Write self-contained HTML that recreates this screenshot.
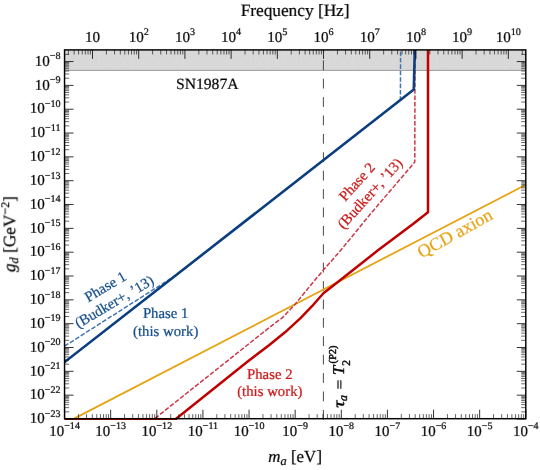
<!DOCTYPE html>
<html><head><meta charset="utf-8"><title>plot</title>
<style>
html,body{margin:0;padding:0;background:#fff;}
svg{display:block;}
text{font-family:"Liberation Serif",serif;text-rendering:geometricPrecision;stroke-width:0.22px;}
.h text{stroke-width:0.42px}
.k{fill:#000;stroke:#000}.b{fill:#114A86;stroke:#114A86}.r{fill:#C81414;stroke:#C81414}.o{fill:#E5A414;stroke:#E5A414}
</style></head><body>
<svg width="540" height="470" viewBox="0 0 540 470">
<rect x="0" y="0" width="540" height="470" fill="#ffffff"/>
<defs><clipPath id="cp"><rect x="64.55" y="49.9" width="461.24999999999994" height="370.0"/></clipPath></defs>
<rect x="64.55" y="49.9" width="461.24999999999994" height="20.500000000000007" fill="#d8d8d8"/>
<path d="M64.9 53.5L81.8 70.4M64.9 70.4L81.8 53.5M64.9 49.9L64.9 70.4M81.8 53.5L98.7 70.4M81.8 70.4L98.7 53.5M81.8 49.9L81.8 70.4M98.7 53.5L115.6 70.4M98.7 70.4L115.6 53.5M98.7 49.9L98.7 70.4M115.6 53.5L132.5 70.4M115.6 70.4L132.5 53.5M115.6 49.9L115.6 70.4M132.5 53.5L149.4 70.4M132.5 70.4L149.4 53.5M132.5 49.9L132.5 70.4M149.4 53.5L166.3 70.4M149.4 70.4L166.3 53.5M149.4 49.9L149.4 70.4M166.3 53.5L183.2 70.4M166.3 70.4L183.2 53.5M166.3 49.9L166.3 70.4M183.2 53.5L200.1 70.4M183.2 70.4L200.1 53.5M183.2 49.9L183.2 70.4M200.1 53.5L217.0 70.4M200.1 70.4L217.0 53.5M200.1 49.9L200.1 70.4M217.0 53.5L233.9 70.4M217.0 70.4L233.9 53.5M217.0 49.9L217.0 70.4M233.9 53.5L250.8 70.4M233.9 70.4L250.8 53.5M233.9 49.9L233.9 70.4M250.8 53.5L267.7 70.4M250.8 70.4L267.7 53.5M250.8 49.9L250.8 70.4M267.7 53.5L284.6 70.4M267.7 70.4L284.6 53.5M267.7 49.9L267.7 70.4M284.6 53.5L301.5 70.4M284.6 70.4L301.5 53.5M284.6 49.9L284.6 70.4M301.5 53.5L318.4 70.4M301.5 70.4L318.4 53.5M301.5 49.9L301.5 70.4M318.4 53.5L335.3 70.4M318.4 70.4L335.3 53.5M318.4 49.9L318.4 70.4M335.3 53.5L352.2 70.4M335.3 70.4L352.2 53.5M335.3 49.9L335.3 70.4M352.2 53.5L369.1 70.4M352.2 70.4L369.1 53.5M352.2 49.9L352.2 70.4M369.1 53.5L386.0 70.4M369.1 70.4L386.0 53.5M369.1 49.9L369.1 70.4M386.0 53.5L402.9 70.4M386.0 70.4L402.9 53.5M386.0 49.9L386.0 70.4M402.9 53.5L419.8 70.4M402.9 70.4L419.8 53.5M402.9 49.9L402.9 70.4M419.8 53.5L436.7 70.4M419.8 70.4L436.7 53.5M419.8 49.9L419.8 70.4M436.7 53.5L453.6 70.4M436.7 70.4L453.6 53.5M436.7 49.9L436.7 70.4M453.6 53.5L470.5 70.4M453.6 70.4L470.5 53.5M453.6 49.9L453.6 70.4M470.5 53.5L487.4 70.4M470.5 70.4L487.4 53.5M470.5 49.9L470.5 70.4M487.4 53.5L504.3 70.4M487.4 70.4L504.3 53.5M487.4 49.9L487.4 70.4M504.3 53.5L521.2 70.4M504.3 70.4L521.2 53.5M504.3 49.9L504.3 70.4M521.2 53.5L538.1 70.4M521.2 70.4L538.1 53.5M521.2 49.9L521.2 70.4" stroke="#e0e0e0" stroke-width="0.45" fill="none" clip-path="url(#cp)"/>
<line x1="64.55" y1="70.4" x2="525.8" y2="70.4" stroke="#9a9a9a" stroke-width="1"/>
<g clip-path="url(#cp)" fill="none" stroke-linejoin="miter">
<line x1="323.4" y1="419.7" x2="323.4" y2="49.9" stroke="#333" stroke-width="0.9" stroke-dasharray="9.8 8.6"/>
<path d="M74.6 418.4L525.3 185.0" stroke="#E5A414" stroke-width="1.8"/>
<path d="M155 418.4L248 344.5L270 327L282.5 317.6L294.5 305L310 286L323.4 270L341 250L370 214.5L414.8 162L415.0 49" stroke="#CE3646" stroke-width="1.5" stroke-dasharray="4.6 1.8"/>
<path d="M64.5 346.2L176 275.2L400.4 100.2L400.6 49" stroke="#3F76B0" stroke-width="1.5" stroke-dasharray="4.6 1.8"/>
<path d="M60 419.5L175.2 419.5L248 361.2L269 345.2L285 332.3L300.5 318.2L312 306.2L323.4 293.2L334 285L378 250.3L413 224L428 212.2L428 49" stroke="#C00000" stroke-width="2.5" stroke-linejoin="round"/>
<path d="M64 362.6L413.8 89.6L414.8 49" stroke="#0B3F7F" stroke-width="2.6" stroke-linejoin="round"/>
</g>
<path d="M78.44 418.7V414.09999999999997M86.56 418.7V414.09999999999997M92.32 418.7V414.09999999999997M96.79 418.7V414.09999999999997M100.44 418.7V414.09999999999997M103.53 418.7V414.09999999999997M106.21 418.7V414.09999999999997M108.56 418.7V414.09999999999997M124.56 418.7V414.09999999999997M132.68 418.7V414.09999999999997M138.45 418.7V414.09999999999997M142.91 418.7V414.09999999999997M146.57 418.7V414.09999999999997M149.66 418.7V414.09999999999997M152.33 418.7V414.09999999999997M154.69 418.7V414.09999999999997M170.69 418.7V414.09999999999997M178.81 418.7V414.09999999999997M184.57 418.7V414.09999999999997M189.04 418.7V414.09999999999997M192.69 418.7V414.09999999999997M195.78 418.7V414.09999999999997M198.46 418.7V414.09999999999997M200.81 418.7V414.09999999999997M216.81 418.7V414.09999999999997M224.93 418.7V414.09999999999997M230.70 418.7V414.09999999999997M235.16 418.7V414.09999999999997M238.82 418.7V414.09999999999997M241.91 418.7V414.09999999999997M244.58 418.7V414.09999999999997M246.94 418.7V414.09999999999997M262.94 418.7V414.09999999999997M271.06 418.7V414.09999999999997M276.82 418.7V414.09999999999997M281.29 418.7V414.09999999999997M284.94 418.7V414.09999999999997M288.03 418.7V414.09999999999997M290.71 418.7V414.09999999999997M293.06 418.7V414.09999999999997M309.06 418.7V414.09999999999997M317.18 418.7V414.09999999999997M322.95 418.7V414.09999999999997M327.41 418.7V414.09999999999997M331.07 418.7V414.09999999999997M334.16 418.7V414.09999999999997M336.83 418.7V414.09999999999997M339.19 418.7V414.09999999999997M355.19 418.7V414.09999999999997M363.31 418.7V414.09999999999997M369.07 418.7V414.09999999999997M373.54 418.7V414.09999999999997M377.19 418.7V414.09999999999997M380.28 418.7V414.09999999999997M382.96 418.7V414.09999999999997M385.31 418.7V414.09999999999997M401.31 418.7V414.09999999999997M409.43 418.7V414.09999999999997M415.20 418.7V414.09999999999997M419.66 418.7V414.09999999999997M423.32 418.7V414.09999999999997M426.41 418.7V414.09999999999997M429.08 418.7V414.09999999999997M431.44 418.7V414.09999999999997M447.44 418.7V414.09999999999997M455.56 418.7V414.09999999999997M461.32 418.7V414.09999999999997M465.79 418.7V414.09999999999997M469.44 418.7V414.09999999999997M472.53 418.7V414.09999999999997M475.21 418.7V414.09999999999997M477.56 418.7V414.09999999999997M493.56 418.7V414.09999999999997M501.68 418.7V414.09999999999997M507.45 418.7V414.09999999999997M511.91 418.7V414.09999999999997M515.57 418.7V414.09999999999997M518.66 418.7V414.09999999999997M521.33 418.7V414.09999999999997M523.69 418.7V414.09999999999997M68.34 49.9V54.5M74.11 49.9V54.5M78.59 49.9V54.5M82.25 49.9V54.5M85.34 49.9V54.5M88.02 49.9V54.5M90.39 49.9V54.5M106.41 49.9V54.5M114.55 49.9V54.5M120.32 49.9V54.5M124.80 49.9V54.5M128.45 49.9V54.5M131.55 49.9V54.5M134.23 49.9V54.5M136.59 49.9V54.5M152.61 49.9V54.5M160.75 49.9V54.5M166.52 49.9V54.5M171.00 49.9V54.5M174.66 49.9V54.5M177.75 49.9V54.5M180.43 49.9V54.5M182.80 49.9V54.5M198.82 49.9V54.5M206.96 49.9V54.5M212.73 49.9V54.5M217.21 49.9V54.5M220.86 49.9V54.5M223.96 49.9V54.5M226.64 49.9V54.5M229.00 49.9V54.5M245.02 49.9V54.5M253.16 49.9V54.5M258.93 49.9V54.5M263.41 49.9V54.5M267.07 49.9V54.5M270.16 49.9V54.5M272.84 49.9V54.5M275.21 49.9V54.5M291.23 49.9V54.5M299.37 49.9V54.5M305.14 49.9V54.5M309.62 49.9V54.5M313.27 49.9V54.5M316.37 49.9V54.5M319.05 49.9V54.5M321.41 49.9V54.5M337.43 49.9V54.5M345.57 49.9V54.5M351.34 49.9V54.5M355.82 49.9V54.5M359.48 49.9V54.5M362.57 49.9V54.5M365.25 49.9V54.5M367.62 49.9V54.5M383.64 49.9V54.5M391.78 49.9V54.5M397.55 49.9V54.5M402.03 49.9V54.5M405.68 49.9V54.5M408.78 49.9V54.5M411.46 49.9V54.5M413.82 49.9V54.5M429.84 49.9V54.5M437.98 49.9V54.5M443.75 49.9V54.5M448.23 49.9V54.5M451.89 49.9V54.5M454.98 49.9V54.5M457.66 49.9V54.5M460.03 49.9V54.5M476.05 49.9V54.5M484.19 49.9V54.5M489.96 49.9V54.5M494.44 49.9V54.5M498.09 49.9V54.5M501.19 49.9V54.5M503.87 49.9V54.5M506.23 49.9V54.5M522.25 49.9V54.5M64.55 411.83H69.14999999999999M525.8 411.83H521.1999999999999M64.55 407.63H69.14999999999999M525.8 407.63H521.1999999999999M64.55 404.65H69.14999999999999M525.8 404.65H521.1999999999999M64.55 402.34H69.14999999999999M525.8 402.34H521.1999999999999M64.55 400.46H69.14999999999999M525.8 400.46H521.1999999999999M64.55 398.86H69.14999999999999M525.8 398.86H521.1999999999999M64.55 397.48H69.14999999999999M525.8 397.48H521.1999999999999M64.55 396.26H69.14999999999999M525.8 396.26H521.1999999999999M64.55 388.00H69.14999999999999M525.8 388.00H521.1999999999999M64.55 383.80H69.14999999999999M525.8 383.80H521.1999999999999M64.55 380.82H69.14999999999999M525.8 380.82H521.1999999999999M64.55 378.51H69.14999999999999M525.8 378.51H521.1999999999999M64.55 376.63H69.14999999999999M525.8 376.63H521.1999999999999M64.55 375.03H69.14999999999999M525.8 375.03H521.1999999999999M64.55 373.65H69.14999999999999M525.8 373.65H521.1999999999999M64.55 372.43H69.14999999999999M525.8 372.43H521.1999999999999M64.55 364.17H69.14999999999999M525.8 364.17H521.1999999999999M64.55 359.97H69.14999999999999M525.8 359.97H521.1999999999999M64.55 356.99H69.14999999999999M525.8 356.99H521.1999999999999M64.55 354.68H69.14999999999999M525.8 354.68H521.1999999999999M64.55 352.80H69.14999999999999M525.8 352.80H521.1999999999999M64.55 351.20H69.14999999999999M525.8 351.20H521.1999999999999M64.55 349.82H69.14999999999999M525.8 349.82H521.1999999999999M64.55 348.60H69.14999999999999M525.8 348.60H521.1999999999999M64.55 340.34H69.14999999999999M525.8 340.34H521.1999999999999M64.55 336.14H69.14999999999999M525.8 336.14H521.1999999999999M64.55 333.16H69.14999999999999M525.8 333.16H521.1999999999999M64.55 330.85H69.14999999999999M525.8 330.85H521.1999999999999M64.55 328.97H69.14999999999999M525.8 328.97H521.1999999999999M64.55 327.37H69.14999999999999M525.8 327.37H521.1999999999999M64.55 325.99H69.14999999999999M525.8 325.99H521.1999999999999M64.55 324.77H69.14999999999999M525.8 324.77H521.1999999999999M64.55 316.51H69.14999999999999M525.8 316.51H521.1999999999999M64.55 312.31H69.14999999999999M525.8 312.31H521.1999999999999M64.55 309.33H69.14999999999999M525.8 309.33H521.1999999999999M64.55 307.02H69.14999999999999M525.8 307.02H521.1999999999999M64.55 305.14H69.14999999999999M525.8 305.14H521.1999999999999M64.55 303.54H69.14999999999999M525.8 303.54H521.1999999999999M64.55 302.16H69.14999999999999M525.8 302.16H521.1999999999999M64.55 300.94H69.14999999999999M525.8 300.94H521.1999999999999M64.55 292.68H69.14999999999999M525.8 292.68H521.1999999999999M64.55 288.48H69.14999999999999M525.8 288.48H521.1999999999999M64.55 285.50H69.14999999999999M525.8 285.50H521.1999999999999M64.55 283.19H69.14999999999999M525.8 283.19H521.1999999999999M64.55 281.31H69.14999999999999M525.8 281.31H521.1999999999999M64.55 279.71H69.14999999999999M525.8 279.71H521.1999999999999M64.55 278.33H69.14999999999999M525.8 278.33H521.1999999999999M64.55 277.11H69.14999999999999M525.8 277.11H521.1999999999999M64.55 268.85H69.14999999999999M525.8 268.85H521.1999999999999M64.55 264.65H69.14999999999999M525.8 264.65H521.1999999999999M64.55 261.67H69.14999999999999M525.8 261.67H521.1999999999999M64.55 259.36H69.14999999999999M525.8 259.36H521.1999999999999M64.55 257.48H69.14999999999999M525.8 257.48H521.1999999999999M64.55 255.88H69.14999999999999M525.8 255.88H521.1999999999999M64.55 254.50H69.14999999999999M525.8 254.50H521.1999999999999M64.55 253.28H69.14999999999999M525.8 253.28H521.1999999999999M64.55 245.02H69.14999999999999M525.8 245.02H521.1999999999999M64.55 240.82H69.14999999999999M525.8 240.82H521.1999999999999M64.55 237.84H69.14999999999999M525.8 237.84H521.1999999999999M64.55 235.53H69.14999999999999M525.8 235.53H521.1999999999999M64.55 233.65H69.14999999999999M525.8 233.65H521.1999999999999M64.55 232.05H69.14999999999999M525.8 232.05H521.1999999999999M64.55 230.67H69.14999999999999M525.8 230.67H521.1999999999999M64.55 229.45H69.14999999999999M525.8 229.45H521.1999999999999M64.55 221.19H69.14999999999999M525.8 221.19H521.1999999999999M64.55 216.99H69.14999999999999M525.8 216.99H521.1999999999999M64.55 214.01H69.14999999999999M525.8 214.01H521.1999999999999M64.55 211.70H69.14999999999999M525.8 211.70H521.1999999999999M64.55 209.82H69.14999999999999M525.8 209.82H521.1999999999999M64.55 208.22H69.14999999999999M525.8 208.22H521.1999999999999M64.55 206.84H69.14999999999999M525.8 206.84H521.1999999999999M64.55 205.62H69.14999999999999M525.8 205.62H521.1999999999999M64.55 197.36H69.14999999999999M525.8 197.36H521.1999999999999M64.55 193.16H69.14999999999999M525.8 193.16H521.1999999999999M64.55 190.18H69.14999999999999M525.8 190.18H521.1999999999999M64.55 187.87H69.14999999999999M525.8 187.87H521.1999999999999M64.55 185.99H69.14999999999999M525.8 185.99H521.1999999999999M64.55 184.39H69.14999999999999M525.8 184.39H521.1999999999999M64.55 183.01H69.14999999999999M525.8 183.01H521.1999999999999M64.55 181.79H69.14999999999999M525.8 181.79H521.1999999999999M64.55 173.53H69.14999999999999M525.8 173.53H521.1999999999999M64.55 169.33H69.14999999999999M525.8 169.33H521.1999999999999M64.55 166.35H69.14999999999999M525.8 166.35H521.1999999999999M64.55 164.04H69.14999999999999M525.8 164.04H521.1999999999999M64.55 162.16H69.14999999999999M525.8 162.16H521.1999999999999M64.55 160.56H69.14999999999999M525.8 160.56H521.1999999999999M64.55 159.18H69.14999999999999M525.8 159.18H521.1999999999999M64.55 157.96H69.14999999999999M525.8 157.96H521.1999999999999M64.55 149.70H69.14999999999999M525.8 149.70H521.1999999999999M64.55 145.50H69.14999999999999M525.8 145.50H521.1999999999999M64.55 142.52H69.14999999999999M525.8 142.52H521.1999999999999M64.55 140.21H69.14999999999999M525.8 140.21H521.1999999999999M64.55 138.33H69.14999999999999M525.8 138.33H521.1999999999999M64.55 136.73H69.14999999999999M525.8 136.73H521.1999999999999M64.55 135.35H69.14999999999999M525.8 135.35H521.1999999999999M64.55 134.13H69.14999999999999M525.8 134.13H521.1999999999999M64.55 125.87H69.14999999999999M525.8 125.87H521.1999999999999M64.55 121.67H69.14999999999999M525.8 121.67H521.1999999999999M64.55 118.69H69.14999999999999M525.8 118.69H521.1999999999999M64.55 116.38H69.14999999999999M525.8 116.38H521.1999999999999M64.55 114.50H69.14999999999999M525.8 114.50H521.1999999999999M64.55 112.90H69.14999999999999M525.8 112.90H521.1999999999999M64.55 111.52H69.14999999999999M525.8 111.52H521.1999999999999M64.55 110.30H69.14999999999999M525.8 110.30H521.1999999999999M64.55 102.04H69.14999999999999M525.8 102.04H521.1999999999999M64.55 97.84H69.14999999999999M525.8 97.84H521.1999999999999M64.55 94.86H69.14999999999999M525.8 94.86H521.1999999999999M64.55 92.55H69.14999999999999M525.8 92.55H521.1999999999999M64.55 90.67H69.14999999999999M525.8 90.67H521.1999999999999M64.55 89.07H69.14999999999999M525.8 89.07H521.1999999999999M64.55 87.69H69.14999999999999M525.8 87.69H521.1999999999999M64.55 86.47H69.14999999999999M525.8 86.47H521.1999999999999M64.55 78.21H69.14999999999999M525.8 78.21H521.1999999999999M64.55 74.01H69.14999999999999M525.8 74.01H521.1999999999999M64.55 71.03H69.14999999999999M525.8 71.03H521.1999999999999M64.55 68.72H69.14999999999999M525.8 68.72H521.1999999999999M64.55 66.84H69.14999999999999M525.8 66.84H521.1999999999999M64.55 65.24H69.14999999999999M525.8 65.24H521.1999999999999M64.55 63.86H69.14999999999999M525.8 63.86H521.1999999999999M64.55 62.64H69.14999999999999M525.8 62.64H521.1999999999999M64.55 54.38H69.14999999999999M525.8 54.38H521.1999999999999" stroke="#000" stroke-width="0.6" fill="none"/>
<path d="M64.55 418.7V409.7M110.67 418.7V409.7M156.80 418.7V409.7M202.92 418.7V409.7M249.05 418.7V409.7M295.17 418.7V409.7M341.30 418.7V409.7M387.42 418.7V409.7M433.55 418.7V409.7M479.67 418.7V409.7M525.80 418.7V409.7M92.50 49.9V58.9M138.70 49.9V58.9M184.91 49.9V58.9M231.12 49.9V58.9M277.32 49.9V58.9M323.52 49.9V58.9M369.73 49.9V58.9M415.94 49.9V58.9M462.14 49.9V58.9M508.34 49.9V58.9M64.55 419.00H73.55M525.8 419.00H516.8M64.55 395.17H73.55M525.8 395.17H516.8M64.55 371.34H73.55M525.8 371.34H516.8M64.55 347.51H73.55M525.8 347.51H516.8M64.55 323.68H73.55M525.8 323.68H516.8M64.55 299.85H73.55M525.8 299.85H516.8M64.55 276.02H73.55M525.8 276.02H516.8M64.55 252.19H73.55M525.8 252.19H516.8M64.55 228.36H73.55M525.8 228.36H516.8M64.55 204.53H73.55M525.8 204.53H516.8M64.55 180.70H73.55M525.8 180.70H516.8M64.55 156.87H73.55M525.8 156.87H516.8M64.55 133.04H73.55M525.8 133.04H516.8M64.55 109.21H73.55M525.8 109.21H516.8M64.55 85.38H73.55M525.8 85.38H516.8M64.55 61.55H73.55M525.8 61.55H516.8" stroke="#000" stroke-width="0.8" fill="none"/>
<rect x="64.55" y="49.9" width="461.24999999999994" height="368.8" fill="none" stroke="#000" stroke-width="1.45"/>
<g transform="rotate(0.02 270 235)" opacity="0.999" class="k">
<text x="60.50" y="423.20" font-size="15" text-anchor="end">10<tspan font-size="10.1" dy="-6.4">−23</tspan></text>
<text x="60.50" y="399.37" font-size="15" text-anchor="end">10<tspan font-size="10.1" dy="-6.4">−22</tspan></text>
<text x="60.50" y="375.54" font-size="15" text-anchor="end">10<tspan font-size="10.1" dy="-6.4">−21</tspan></text>
<text x="60.50" y="351.71" font-size="15" text-anchor="end">10<tspan font-size="10.1" dy="-6.4">−20</tspan></text>
<text x="60.50" y="327.88" font-size="15" text-anchor="end">10<tspan font-size="10.1" dy="-6.4">−19</tspan></text>
<text x="60.50" y="304.05" font-size="15" text-anchor="end">10<tspan font-size="10.1" dy="-6.4">−18</tspan></text>
<text x="60.50" y="280.22" font-size="15" text-anchor="end">10<tspan font-size="10.1" dy="-6.4">−17</tspan></text>
<text x="60.50" y="256.39" font-size="15" text-anchor="end">10<tspan font-size="10.1" dy="-6.4">−16</tspan></text>
<text x="60.50" y="232.56" font-size="15" text-anchor="end">10<tspan font-size="10.1" dy="-6.4">−15</tspan></text>
<text x="60.50" y="208.73" font-size="15" text-anchor="end">10<tspan font-size="10.1" dy="-6.4">−14</tspan></text>
<text x="60.50" y="184.90" font-size="15" text-anchor="end">10<tspan font-size="10.1" dy="-6.4">−13</tspan></text>
<text x="60.50" y="161.07" font-size="15" text-anchor="end">10<tspan font-size="10.1" dy="-6.4">−12</tspan></text>
<text x="60.50" y="137.24" font-size="15" text-anchor="end">10<tspan font-size="10.1" dy="-6.4">−11</tspan></text>
<text x="60.50" y="113.41" font-size="15" text-anchor="end">10<tspan font-size="10.1" dy="-6.4">−10</tspan></text>
<text x="60.50" y="89.58" font-size="15" text-anchor="end">10<tspan font-size="10.1" dy="-6.4">−9</tspan></text>
<text x="60.50" y="65.75" font-size="15" text-anchor="end">10<tspan font-size="10.1" dy="-6.4">−8</tspan></text>
<text x="64.55" y="435.80" font-size="15" text-anchor="middle">10<tspan font-size="10.1" dy="-6.4">−14</tspan></text>
<text x="110.67" y="435.80" font-size="15" text-anchor="middle">10<tspan font-size="10.1" dy="-6.4">−13</tspan></text>
<text x="156.80" y="435.80" font-size="15" text-anchor="middle">10<tspan font-size="10.1" dy="-6.4">−12</tspan></text>
<text x="202.92" y="435.80" font-size="15" text-anchor="middle">10<tspan font-size="10.1" dy="-6.4">−11</tspan></text>
<text x="249.05" y="435.80" font-size="15" text-anchor="middle">10<tspan font-size="10.1" dy="-6.4">−10</tspan></text>
<text x="295.17" y="435.80" font-size="15" text-anchor="middle">10<tspan font-size="10.1" dy="-6.4">−9</tspan></text>
<text x="341.30" y="435.80" font-size="15" text-anchor="middle">10<tspan font-size="10.1" dy="-6.4">−8</tspan></text>
<text x="387.42" y="435.80" font-size="15" text-anchor="middle">10<tspan font-size="10.1" dy="-6.4">−7</tspan></text>
<text x="433.55" y="435.80" font-size="15" text-anchor="middle">10<tspan font-size="10.1" dy="-6.4">−6</tspan></text>
<text x="479.67" y="435.80" font-size="15" text-anchor="middle">10<tspan font-size="10.1" dy="-6.4">−5</tspan></text>
<text x="525.80" y="435.80" font-size="15" text-anchor="middle">10<tspan font-size="10.1" dy="-6.4">−4</tspan></text>
<text x="92.50" y="41.5" font-size="15" text-anchor="middle">10</text>
<text x="138.70" y="41.50" font-size="15" text-anchor="middle">10<tspan font-size="10.1" dy="-6.4">2</tspan></text>
<text x="184.91" y="41.50" font-size="15" text-anchor="middle">10<tspan font-size="10.1" dy="-6.4">3</tspan></text>
<text x="231.12" y="41.50" font-size="15" text-anchor="middle">10<tspan font-size="10.1" dy="-6.4">4</tspan></text>
<text x="277.32" y="41.50" font-size="15" text-anchor="middle">10<tspan font-size="10.1" dy="-6.4">5</tspan></text>
<text x="323.52" y="41.50" font-size="15" text-anchor="middle">10<tspan font-size="10.1" dy="-6.4">6</tspan></text>
<text x="369.73" y="41.50" font-size="15" text-anchor="middle">10<tspan font-size="10.1" dy="-6.4">7</tspan></text>
<text x="415.94" y="41.50" font-size="15" text-anchor="middle">10<tspan font-size="10.1" dy="-6.4">8</tspan></text>
<text x="462.14" y="41.50" font-size="15" text-anchor="middle">10<tspan font-size="10.1" dy="-6.4">9</tspan></text>
<text x="508.34" y="41.50" font-size="15" text-anchor="middle">10<tspan font-size="10.1" dy="-6.4">10</tspan></text>
<text x="295.1" y="15.6" font-size="17.3" text-anchor="middle">Frequency [Hz]</text>
<text x="295.1" y="462" font-size="17" text-anchor="middle"><tspan font-style="italic">m</tspan><tspan font-style="italic" font-size="12.5" dy="2.5">a</tspan><tspan dy="-2.5"> [eV]</tspan></text>
<text transform="translate(15.2 234.2) rotate(-90)" font-size="17.3" text-anchor="middle"><tspan font-style="italic">g</tspan><tspan font-style="italic" font-size="12.5" dy="2.5">d</tspan><tspan dy="-2.5"> [GeV</tspan><tspan font-size="12" dy="-6.5">−2</tspan><tspan dy="6.5">]</tspan></text>
<text x="207.3" y="89" font-size="15.6" text-anchor="middle">SN1987A</text>
<text x="165.7" y="318.4" font-size="14.8" text-anchor="middle" class="b">Phase 1</text>
<text x="165.7" y="336" font-size="14.8" text-anchor="middle" class="b">(this work)</text>
<text x="269.8" y="378.6" font-size="14.8" text-anchor="middle" class="r">Phase 2</text>
<text x="269.8" y="396.2" font-size="14.8" text-anchor="middle" class="r">(this work)</text>
<g transform="translate(107.8 290.8) rotate(-30.5)" class="b" font-size="14.8" text-anchor="middle"><text x="0" y="0">Phase 1</text><text x="0" y="17.5">(Budker+, ’13)</text></g>
<g transform="translate(360.5 185) rotate(-48)" class="r" font-size="14.8" text-anchor="middle"><text x="0" y="0">Phase 2</text><text x="0" y="17.5">(Budker+, ’13)</text></g>
<g transform="translate(457.7 238.5) rotate(-29)" class="o" font-size="18" text-anchor="middle"><text x="0" y="0">QCD axion</text></g>
<g transform="translate(344.2 410.9) rotate(-90)" font-size="16" class="h"><text transform="translate(3.1 0) scale(1.25 1)" x="0" y="0" font-size="16" font-style="italic">τ</text><text x="9.9" y="3.2" font-size="11.8" font-style="italic">a</text><text transform="translate(21.3 -0.1) scale(1.1 0.86)" x="0" y="0" font-size="16">=</text><text x="35.9" y="-0.3" font-size="16.5" font-style="italic">T</text><text x="45.1" y="5.6" font-size="11.5">2</text><text x="47.3" y="-8.7" font-size="10.5">(P2)</text></g>
</g>
</svg>
</body></html>
